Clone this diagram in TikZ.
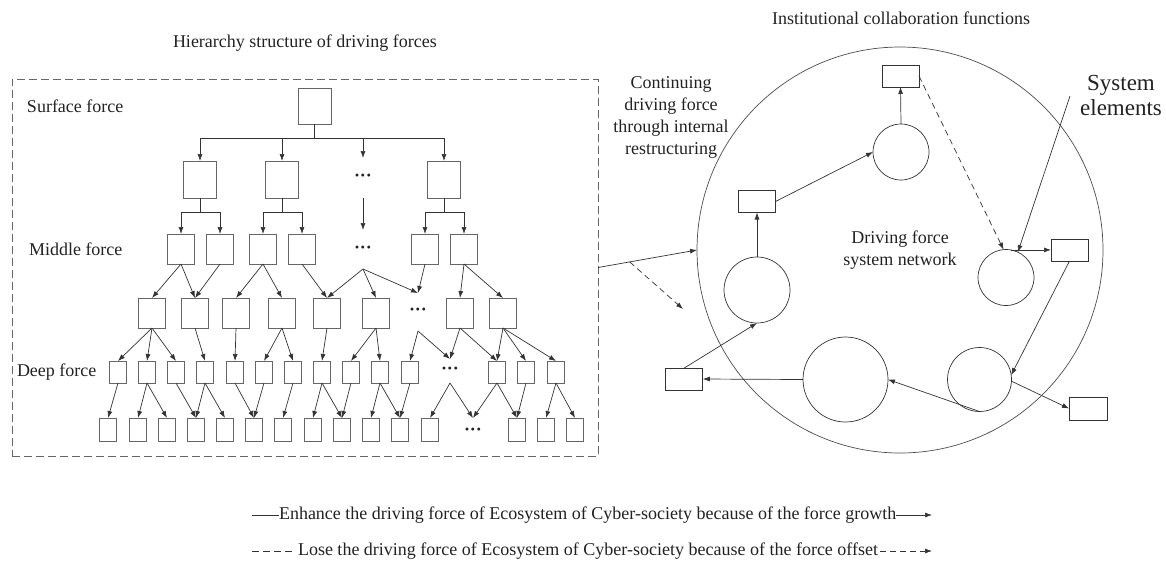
\documentclass[tikz,border=0pt]{standalone}
\usepackage{fontspec}
\setmainfont{Liberation Serif}
\usetikzlibrary{arrows.meta,calc}
\definecolor{boxc}{HTML}{666666}
\definecolor{linec}{HTML}{333333}
\definecolor{txtc}{HTML}{222222}
\begin{document}
\begin{tikzpicture}[x=1pt,y=-1pt,
  every node/.style={inner sep=0pt,outer sep=0pt,text=txtc},
  lbl/.style={font=\fontsize{18}{21.7}\selectfont},
  bigl/.style={font=\fontsize{23}{25}\selectfont},
  bx/.style={draw=boxc,line width=0.9pt,rectangle},
  bzero/.style={bx,minimum width=33pt,minimum height=36pt},
  bone/.style={bx,minimum width=33pt,minimum height=37pt},
  btwo/.style={bx,minimum width=27pt,minimum height=30pt},
  bfour/.style={bx,minimum width=17pt,minimum height=22pt},
  bfive/.style={bx,minimum width=17pt,minimum height=23pt},
  dts/.style={font=\fontsize{18}{18}\selectfont\bfseries,minimum width=17pt,minimum height=#1},
  ln/.style={draw=linec,line width=0.7pt},
  arr/.style={ln,-{Latex[length=7pt,width=5pt]}},
  darr/.style={arr,dash pattern=on 6pt off 4pt},
  cir/.style={circle,draw=linec,line width=0.7pt,minimum size=#1},
  rb/.style={bx,draw=linec,line width=0.8pt,minimum width=37pt,minimum height=22pt},
]
\useasboundingbox (0,0) rectangle (1166,566);

% frame and titles
\node[draw=boxc,line width=0.9pt,dash pattern=on 8pt off 4pt,minimum width=586pt,minimum height=377pt] (frame) at (305,267.5) {};
\node[lbl,anchor=west] (t1) at (173,43) {Hierarchy structure of driving forces};
\node[lbl] (t2) at (901,18) {Institutional collaboration functions};

\node[lbl,anchor=west] (sf) at (27,106) {Surface force};
\node[lbl,anchor=west] (mf) at (29,249) {Middle force};
\node[lbl,anchor=west] (df) at (17,372) {Deep force};

% tree nodes
\node[bzero] (r) at (314.5,106) {};
\node[bone] (a1) at (200,179.5) {};
\node[bone] (a2) at (282,179.5) {};
\node[dts=40pt] (ad) at (363,178) {···};
\node[bone] (a4) at (444,179.5) {};

\foreach \n/\x in {m1/181,m2/220,m3/263,m4/302,m5/425,m6/464}
  \node[btwo] (\n) at (\x,249) {};
\node[dts=39pt] (md) at (363,249.5) {···};

\foreach \n/\x in {n1/152,n2/195,n3/236,n4/282,n5/327,n6/376,n7/460,n8/503}
  \node[btwo] (\n) at (\x,313) {};
\node[dts=38pt] (nd) at (418,312) {···};

\foreach \n/\x in {p1/118,p2/147,p3/176,p4/205,p5/235,p6/264,p7/293,p8/322,p9/351,p10/380,p11/410,p12/497,p13/526,p14/556}
  \node[bfour] (\n) at (\x,372) {};
\node[dts=24pt] (pd) at (450,371) {···};

\foreach \n/\x in {q1/108,q2/138,q3/167,q4/196,q5/225,q6/254,q7/283,q8/313,q9/342,q10/371,q11/400,q12/430,q13/517,q14/546,q15/575}
  \node[bfive] (\n) at (\x,429.5) {};
\node[dts=28pt] (qd) at (473,432) {···};

% tree connectors
\coordinate (bar0) at (0,138);
\draw[ln] (r.south) -- (r.south |- bar0);
\draw[ln] (a1.north |- bar0) -- (a4.north |- bar0);
\foreach \n in {a1,a2,ad,a4} \draw[arr] (\n.north |- bar0) -- (\n.north);

\coordinate (bar1) at (0,212);
\foreach \p/\c/\d in {a1/m1/m2,a2/m3/m4,a4/m5/m6} {
  \draw[ln] (\p.south) -- (\p.south |- bar1);
  \draw[ln] (\c.north |- bar1) -- (\d.north |- bar1);
  \draw[arr] (\c.north |- bar1) -- (\c.north);
  \draw[arr] (\d.north |- bar1) -- (\d.north);
}
\draw[arr] (ad.south) -- (md.north);

\foreach \p/\c in {m1/n1,m1/n2,m2/n2,m3/n3,m3/n4,m4/n5,md/n5,md/n6,md/nd,m5/nd,m6/n7,m6/n8}
  \draw[arr] (\p.south) -- (\c.north);
\foreach \p/\c in {n1/p1,n1/p2,n1/p3,n2/p4,n3/p5,n4/p6,n4/p7,n5/p8,n6/p9,n6/p10,nd/p11,nd/pd,n7/pd,n7/p12,n8/p12,n8/p13,n8/p14}
  \draw[arr] (\p.south) -- (\c.north);
\foreach \p/\c in {p1/q1,p2/q2,p2/q3,p3/q4,p4/q4,p4/q5,p5/q6,p6/q6,p7/q7,p8/q8,p8/q9,p9/q9,p10/q10,p10/q11,p11/q11,pd/q12,pd/qd,p12/qd,p12/q13,p13/q13,p14/q14,p14/q15}
  \draw[arr] (\p.south) -- (\c.north);

% right network
\node[cir=406pt,draw=black!70] (bigc) at (900,250) {};
\node[rb] (tr) at (900.5,76) {};
\node[cir=56pt] (tc) at (901,152) {};
\node[rb] (lr) at (757,201.5) {};
\node[cir=66pt] (lc) at (757,290) {};
\node[cir=56pt] (rc) at (1006,277.5) {};
\node[rb] (rr) at (1069.5,250) {};
\node[cir=64pt] (lrc) at (979.5,379.5) {};
\node[rb,minimum width=38pt,minimum height=23pt] (brr) at (1088,408.5) {};
\node[cir=85pt] (bbc) at (845.5,379.5) {};
\node[rb] (lbr) at (684.3,379) {};

\node[lbl,align=center] (cont) at (671,117.5) {Continuing\\driving force\\through internal\\restructuring};
\node[lbl,align=center] (dfs) at (900,250) {Driving force\\system network};
\node[bigl,align=center] (se) at (1121,95) {System\\elements};

\draw[arr] (tc.north) -- (tr.south);
\draw[arr] (lr.east) -- (tc.west);
\draw[arr] (lc.north) -- (lr.south);
\draw[darr] (tr.east) -- (rc.95);
\coordinate (sep) at (1070,96);
\draw[arr] (sep) -- (rc.65);
\draw[arr] (rc.80) -- (rc.80 -| rr.west);
\draw[arr] (rr.south) -- (lrc.8);
\draw[arr] (lrc.-3) -- (brr.west);
\draw[arr] (lrc.south) -- (bbc.east);
\draw[arr] (bbc.west) -- (lbr.east);
\draw[arr] (lbr.north) -- (lc.south);

% link between parts
\draw[arr] (frame.east) -- (bigc.west);
\coordinate (dstart) at ($(frame.east)!0.32!(bigc.west)$);
\coordinate (dend) at (683,309);
\draw[darr] (dstart) -- (dend);

% legend
\node[lbl,anchor=west] (leg1) at (279,515) {Enhance the driving force of Ecosystem of Cyber-society because of the force growth};
\coordinate (l1s) at (252,515);
\coordinate (l1e) at (932,515);
\draw[ln] (l1s) -- (leg1.west);
\draw[arr] (leg1.east) -- (l1e);

\node[lbl,anchor=west] (leg2) at (298,551) {Lose the driving force of Ecosystem of Cyber-society because of the force offset};
\coordinate (l2s) at (252,551);
\coordinate (l2e) at (932,551);
\draw[ln,dash pattern=on 7pt off 4pt] (l2s) -- ($(leg2.west)+(-4,0)$);
\draw[darr] ($(leg2.east)+(2,0)$) -- (l2e);
\end{tikzpicture}
\end{document}
